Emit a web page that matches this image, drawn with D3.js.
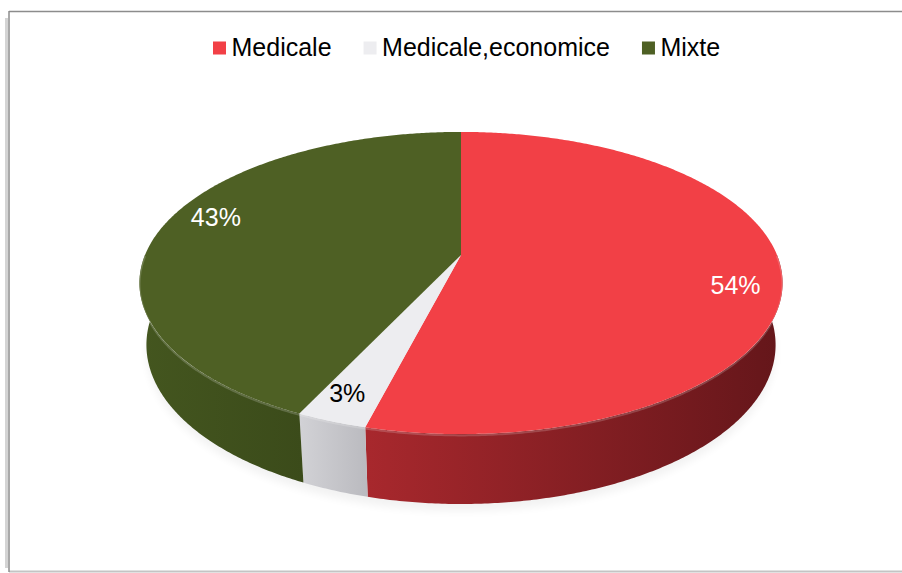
<!DOCTYPE html>
<html><head><meta charset="utf-8">
<script src="https://cdn.jsdelivr.net/npm/d3@7"></script>
<style>body{margin:0;background:#fff;overflow:hidden}</style>
</head><body>
<script>
// ---- data ----
const categories = ["Medicale", "Medicale,economice", "Mixte"];
const values = [54, 3, 43];
const labelTexts = ["54%", "3%", "43%"];

// ---- styles ----
const topColors = ["#F24046", "#EDEDF0", "#4E6024"];
const sideLight = ["#A8282D", "#D2D2D6", "#44561F"];
const sideDark  = ["#64161A", "#BABABF", "#3B4B1A"];

const W = 902, H = 573;
const svg = d3.select("body").append("svg").attr("width", W).attr("height", H)
  .style("font-family", "'Liberation Sans', Arial, sans-serif");

// frame
svg.append("line").attr("x1", 6.5).attr("x2", 6.5).attr("y1", 18).attr("y2", 568)
  .attr("stroke", "#d4d4d4").attr("stroke-width", 3);
svg.append("line").attr("x1", 9).attr("x2", 902).attr("y1", 571.5).attr("y2", 571.5)
  .attr("stroke", "#c4c4c4").attr("stroke-width", 2);
svg.append("line").attr("x1", 9).attr("x2", 902).attr("y1", 11.5).attr("y2", 11.5)
  .attr("stroke", "#8c8c8c").attr("stroke-width", 1.5);
svg.append("line").attr("x1", 9).attr("x2", 9).attr("y1", 11).attr("y2", 572)
  .attr("stroke", "#8c8c8c").attr("stroke-width", 1.5);

// ---- perspective projection of a 3D pie ----
const cx = 461, cy = 255;
const alpha = 27.5 * Math.PI / 180;
const dist = 4.787;           // camera distance (in radii)
const F = 316 * dist;         // focal
const thick = 0.2223;         // pie thickness (in radii)

function project(theta, r, h) {
  const u = r * Math.sin(theta), v = r * Math.cos(theta);
  const yp = v * Math.sin(alpha) + h * Math.cos(alpha);
  const zp = dist + v * Math.cos(alpha) - h * Math.sin(alpha);
  return [cx + F * u / zp, cy - F * yp / zp];
}

const pie = d3.pie().sort(null).value(d => d)(values);
const color = d3.scaleOrdinal().domain(categories).range(topColors);
const line = d3.line();
const step = Math.PI / 360;

function arcPoints(a0, a1, h) {
  const n = Math.max(2, Math.ceil((a1 - a0) / step));
  return d3.range(n + 1).map(i => project(a0 + (a1 - a0) * i / n, 1, h));
}

const defs = svg.append("defs");
pie.forEach((p, i) => {
  const g = defs.append("linearGradient").attr("id", "side" + i)
    .attr("x1", "0%").attr("x2", "100%").attr("y1", "0%").attr("y2", "0%");
  g.append("stop").attr("offset", "0%").attr("stop-color", sideLight[i]);
  g.append("stop").attr("offset", "100%").attr("stop-color", sideDark[i]);
});

// soft shadow under pie
const shadowPts = arcPoints(0, 2 * Math.PI, -thick - 0.01);
svg.append("path").attr("d", line(shadowPts) + "Z")
  .attr("fill", "#000").attr("opacity", 0.05)
  .attr("transform", "translate(0,4)").style("filter", "blur(4px)");

// walls (front visible range)
const vis0 = Math.PI / 2, vis1 = 3 * Math.PI / 2;
pie.forEach((p, i) => {
  const a0 = Math.max(p.startAngle, vis0), a1 = Math.min(p.endAngle, vis1);
  if (a1 <= a0) return;
  const topE = arcPoints(a0, a1, 0);
  const botE = arcPoints(a0, a1, -thick).reverse();
  svg.append("path").attr("d", line(topE.concat(botE)) + "Z")
    .attr("fill", `url(#side${i})`);
});

// top faces
pie.forEach((p, i) => {
  const pts = [project(0, 0, 0)].concat(arcPoints(p.startAngle, p.endAngle, 0));
  svg.append("path").attr("d", line(pts) + "Z")
    .attr("fill", color(categories[i]));
});

// edge highlight on the front rim
pie.forEach((p, i) => {
  const a0 = Math.max(p.startAngle, vis0), a1 = Math.min(p.endAngle, vis1);
  if (a1 <= a0) return;
  svg.append("path").attr("d", line(arcPoints(a0, a1, -0.004)))
    .attr("fill", "none").attr("stroke", "#ffffff").attr("stroke-opacity", 0.18)
    .attr("stroke-width", 2);
});

// data labels (placed slightly past the mid-angle, bounded by slice span)
pie.forEach((p, i) => {
  const span = p.endAngle - p.startAngle;
  const mid = (p.startAngle + p.endAngle) / 2 + Math.min(6 * Math.PI / 180, 0.1 * span);
  const [x, y] = project(mid, 0.86, 0);
  const dark = d3.hsl(topColors[i]).l > 0.6;
  svg.append("text").attr("x", x).attr("y", y + 9)
    .attr("text-anchor", "middle").attr("font-size", 25)
    .attr("fill", dark ? "#000" : "#fff").text(labelTexts[i]);
});

// legend
const legend = svg.append("g");
let lx = 213;
categories.forEach((c, i) => {
  legend.append("rect").attr("x", lx).attr("y", 41.5).attr("width", 13).attr("height", 13)
    .attr("fill", color(c));
  const t = legend.append("text").attr("x", lx + 18.5).attr("y", 56)
    .attr("font-size", 25).attr("fill", "#000").text(c);
  lx += 18.5 + t.node().getComputedTextLength() + 32;
});
</script>
</body></html>
